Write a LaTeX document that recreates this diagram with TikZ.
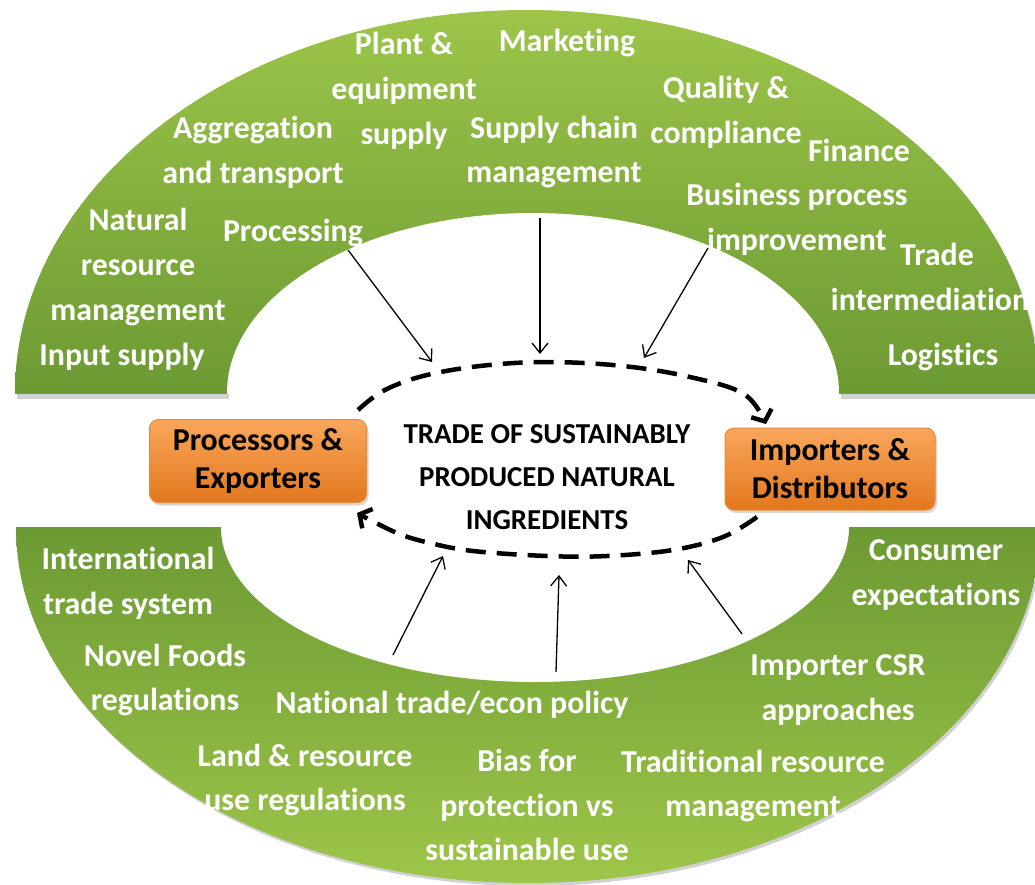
\documentclass[tikz,border=0pt]{standalone}
\usepackage{fontspec}
\setmainfont[Ligatures={NoCommon,NoRare,NoContextual}]{Carlito}
\usetikzlibrary{arrows.meta,shadows}
\definecolor{glight}{HTML}{9EC64A}
\definecolor{gdark}{HTML}{6C9A33}
\definecolor{olight}{HTML}{F9A75C}
\definecolor{odark}{HTML}{E2771D}
\definecolor{oborder}{HTML}{E58B3A}
\begin{document}
\begin{tikzpicture}[x=1bp,y=-1bp,
  gtext/.style={text=white,font=\bfseries\fontsize{32}{45}\selectfont,align=center,inner sep=0pt},
  ctext/.style={text=black,font=\bfseries\fontsize{29}{43}\selectfont,align=center,inner sep=0pt},
  obox/.style={rounded corners=9bp, top color=olight, bottom color=odark, draw=oborder, line width=1bp,
    minimum width=217bp, minimum height=83bp, align=center, text=black,
    font=\bfseries\fontsize{32}{38}\selectfont, inner sep=0pt,
    drop shadow={opacity=0.3,shadow xshift=2bp,shadow yshift=-3bp}},
  cyc/.style={line width=4.5bp, dash pattern=on 20bp off 11bp, -{Straight Barb[length=9bp,width=22bp]}},
  infl/.style={line width=1.3bp, -{Straight Barb[length=10bp,width=16bp]}}
]
\useasboundingbox (0,0) rectangle (1035,885);
\fill[white] (0,0) rectangle (1035,885);

% ---- top arch ----
\begin{scope}
  \clip (0,0) rectangle (1035,398);
  \fill[black,opacity=0.18] (529,397) ellipse [x radius=512, y radius=383];
  \fill[white] (535,397) ellipse [x radius=306, y radius=180];
\end{scope}
\begin{scope}
  \clip (0,0) rectangle (1035,393);
  \clip (527,393) ellipse [x radius=512, y radius=383];
  \shade[top color=glight, bottom color=gdark] (0,0) rectangle (1035,393);
  \fill[white] (533,393) ellipse [x radius=306, y radius=180];
\end{scope}

% ---- bottom arch ----
\begin{scope}
  \clip (0,531) rectangle (1035,885);
  \fill[black,opacity=0.18] (530,530) ellipse [x radius=512, y radius=356];
\end{scope}
\begin{scope}
  \clip (0,527) rectangle (1035,885);
  \clip (528,527) ellipse [x radius=512, y radius=356];
  \shade[top color=gdark, bottom color=glight] (0,527) rectangle (1035,885);
  \fill[white] (535,527) ellipse [x radius=314, y radius=155];
\end{scope}

% ---- cycle (dashed) ----
\coordinate (ts) at (358,410);
\coordinate (te) at (766,424);
\coordinate (bs) at (757,517);
\coordinate (be) at (357,513);
\draw[cyc] plot[smooth,tension=0.6] coordinates {(ts) (383,391) (423,376) (480,366) (547,362) (623,366) (690,377) (744,394) (te)};
\draw[cyc] plot[smooth,tension=0.6] coordinates {(bs) (723,537) (673,550) (607,556) (547,556) (473,551) (430,543) (397,533) (be)};

% ---- boxes ----
\node[obox] (pe) at (258,461) {Processors \&\\Exporters};
\node[obox, minimum width=210bp, minimum height=82bp] (id) at (830,469) {Importers \&\\Distributors};
\node[ctext] (core) at (547,477) {TRADE OF SUSTAINABLY\\PRODUCED NATURAL\\INGREDIENTS};

% ---- top texts ----
\node[gtext] (plant) at (404,91) {Plant \&\\equipment\\supply};
\node[gtext] (mkt) at (567,43) {Marketing};
\node[gtext] (aggr) at (253,152) {Aggregation\\and transport};
\node[gtext] (scm) at (554,152) {Supply chain\\management};
\node[gtext] (qual) at (726,112) {Quality \&\\compliance};
\node[gtext] (fin) at (859,150) {Finance};
\node[gtext] (bpi) at (797,219) {Business process\\improvement};
\node[gtext] (trade) at (930,277) {\hspace*{14bp}Trade\\intermediation};
\node[gtext] (log) at (943,357) {Logistics};
\node[gtext] (nrm) at (138,267) {Natural\\resource\\management};
\node[gtext] (proc) at (293,233) {Processing};
\node[gtext] (input) at (122,357) {Input supply};

% ---- bottom texts ----
\node[gtext] (its) at (128,583) {International\\trade system};
\node[gtext] (novel) at (165,680) {Novel Foods\\regulations};
\node[gtext] (nat) at (452,705) {National trade/econ policy};
\node[gtext] (land) at (305,780) {Land \& resource\\use regulations};
\node[gtext] (bias) at (527,805) {Bias for\\protection vs\\sustainable use};
\node[gtext] (trad) at (753,786) {Traditional resource\\management};
\node[gtext] (csr) at (838,690) {Importer CSR\\approaches};
\node[gtext] (cons) at (936,575) {Consumer\\expectations};

% ---- influence arrows ----
\coordinate (a1) at (348,250); \coordinate (b1) at (432,362);
\coordinate (a2) at (540,218); \coordinate (b2) at (540,354);
\coordinate (a3) at (708,248); \coordinate (b3) at (644,358);
\coordinate (a4) at (393,655); \coordinate (b4) at (443,556);
\coordinate (a5) at (556,672); \coordinate (b5) at (559,575);
\coordinate (a6) at (742,634); \coordinate (b6) at (688,560);
\foreach \i in {1,...,6} {\draw[infl] (a\i) -- (b\i);}
\end{tikzpicture}
\end{document}
